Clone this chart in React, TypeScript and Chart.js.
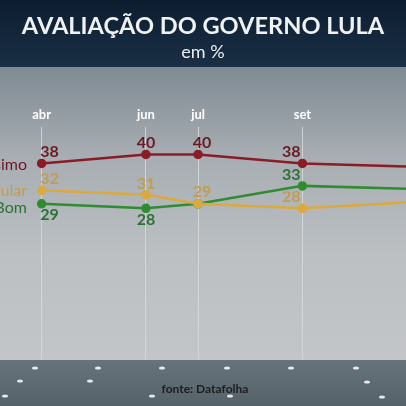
import { useEffect, useRef } from 'react';
import { Chart, registerables } from 'chart.js';
Chart.register(...registerables);

const titleText = 'AVALIAÇÃO DO GOVERNO LULA';
const subtitleText = 'em %';
const sourceText = 'fonte: Datafolha';
const monthLabels = ['abr', 'jun', 'jul', 'set', 'dez'];
const monthNumbers = [4, 6, 7, 9, 12];
const seriesNames = ['Ruim/Péssimo', 'Regular', 'Ótimo/Bom'];
const ruimPessimo = [38, 40, 40, 38, 37];
const regular = [32, 31, 29, 28, 30];
const otimoBom = [29, 28, 29, 33, 32];

const lineColors = ['#8a1c26', '#dca93e', '#2f8c30'];
const textColors = ['#6a1a24', '#c49c4e', '#2b7234'];
// label side per point: -1 above, 1 below, 0 hidden
const labelSides = [
  [-1, -1, -1, -1, -1],
  [-1, -1, -1, -1, -1],
  [1, 1, 0, -1, -1],
];
const labelShiftX = [8, 0, 4, -11, 0];
const nameShiftY = [1, 0, 4];

const decorPlugin = {
  id: 'decor',
  beforeDraw(chart: any) {
    const { ctx, width, height, chartArea } = chart;
    const floorTop = chartArea.bottom;
    ctx.save();
    let g = ctx.createLinearGradient(0, 0, 0, 67);
    g.addColorStop(0, '#0c1d30');
    g.addColorStop(1, '#1a2f45');
    ctx.fillStyle = g;
    ctx.fillRect(0, 0, width, 67);
    g = ctx.createLinearGradient(0, 67, 0, floorTop);
    g.addColorStop(0, '#7f8a93');
    g.addColorStop(0.3, '#a7adb2');
    g.addColorStop(0.65, '#bcc0c3');
    g.addColorStop(1, '#c3c5c7');
    ctx.fillStyle = g;
    ctx.fillRect(0, 67, width, floorTop - 67);
    g = ctx.createLinearGradient(0, floorTop, 0, height);
    g.addColorStop(0, '#66737b');
    g.addColorStop(1, '#56626a');
    ctx.fillStyle = g;
    ctx.fillRect(0, floorTop, width, height - floorTop);
    ctx.fillStyle = 'rgba(255,255,255,0.85)';
    const dots = [[35, 368], [98, 368], [162, 368], [227, 368], [291, 368], [356, 368], [20, 381], [90, 381], [367, 382], [5, 396], [152, 396], [230, 396], [382, 397]];
    dots.forEach(([x, y]) => {
      ctx.beginPath();
      ctx.ellipse(x, y, 3, 1.6, 0, 0, Math.PI * 2);
      ctx.fill();
    });
    ctx.restore();
  },
  afterDatasetsDraw(chart: any) {
    const { ctx } = chart;
    ctx.save();
    chart.data.datasets.forEach((ds: any, di: number) => {
      const meta = chart.getDatasetMeta(di);
      ctx.font = 'bold 16px Lato, "Open Sans", sans-serif';
      ctx.fillStyle = textColors[di];
      ctx.textAlign = 'center';
      ctx.textBaseline = 'middle';
      meta.data.forEach((pt: any, i: number) => {
        const side = labelSides[di][i];
        if (!side) return;
        ctx.fillText(String(ds.data[i].y), pt.x + labelShiftX[i], pt.y + side * 11.5);
      });
      const first = meta.data[0];
      ctx.font = '400 16px Lato, "Open Sans", sans-serif';
      ctx.textAlign = 'right';
      ctx.fillText(seriesNames[di], 27, first.y + nameShiftY[di]);
    });
    ctx.restore();
  },
  afterDraw(chart: any) {
    const { ctx, width, chartArea } = chart;
    ctx.save();
    ctx.font = 'bold 12px Lato, "Open Sans", sans-serif';
    ctx.fillStyle = '#1b1d1f';
    ctx.textAlign = 'center';
    ctx.textBaseline = 'middle';
    ctx.fillText(sourceText, width / 2 + 2, chartArea.bottom + 29);
    ctx.restore();
  },
};

function makeData(values: number[]) {
  return values.map((v, i) => ({ x: monthNumbers[i], y: v }));
}

export default function App() {
  const ref = useRef<HTMLCanvasElement>(null);
  useEffect(() => {
    document.body.style.margin = '0';
    const chart = new Chart(ref.current as HTMLCanvasElement, {
      type: 'line',
      data: {
        datasets: [ruimPessimo, regular, otimoBom].map((vals, i) => ({
          label: seriesNames[i],
          data: makeData(vals),
          borderColor: lineColors[i],
          backgroundColor: lineColors[i],
          pointBackgroundColor: lineColors[i],
          pointBorderColor: lineColors[i],
          pointRadius: 3.5,
          borderWidth: 2.5,
          tension: 0,
        })),
      },
      options: {
        responsive: false,
        animation: false,
        layout: { autoPadding: false, padding: { top: 0, left: 0, right: 0, bottom: 46 } },
        plugins: {
          legend: { display: false },
          tooltip: { enabled: false },
          title: {
            display: true,
            text: titleText,
            color: '#f0f1f2',
            font: { family: 'Lato, "Open Sans", sans-serif', size: 23.6, weight: 'bold' },
            padding: { top: 12, bottom: 0 },
          },
          subtitle: {
            display: true,
            text: subtitleText,
            color: '#eceef0',
            font: { family: 'Lato, "Open Sans", sans-serif', size: 18, weight: 'normal' },
            padding: { top: 1, bottom: 40 },
          },
        },
        scales: {
          x: {
            type: 'linear',
            position: 'top',
            min: 3.202,
            max: 10.987,
            afterBuildTicks: (scale: any) => {
              scale.ticks = monthNumbers
                .filter((m) => m >= scale.min && m <= scale.max)
                .map((m) => ({ value: m }));
            },
            ticks: {
              color: '#ffffff',
              padding: 4,
              font: { family: 'Lato, "Open Sans", sans-serif', size: 13, weight: 'bold' },
              callback: (v: any) => monthLabels[monthNumbers.indexOf(Number(v))] ?? '',
            },
            grid: { color: 'rgba(215,218,221,0.85)', lineWidth: 1, drawTicks: false },
            border: { display: false },
          },
          y: {
            display: false,
            min: -5.78,
            max: 46.22,
          },
        },
      },
      plugins: [decorPlugin],
    } as any);
    return () => chart.destroy();
  }, []);
  return <canvas ref={ref} width={406} height={406} style={{ display: 'block' }} />;
}
